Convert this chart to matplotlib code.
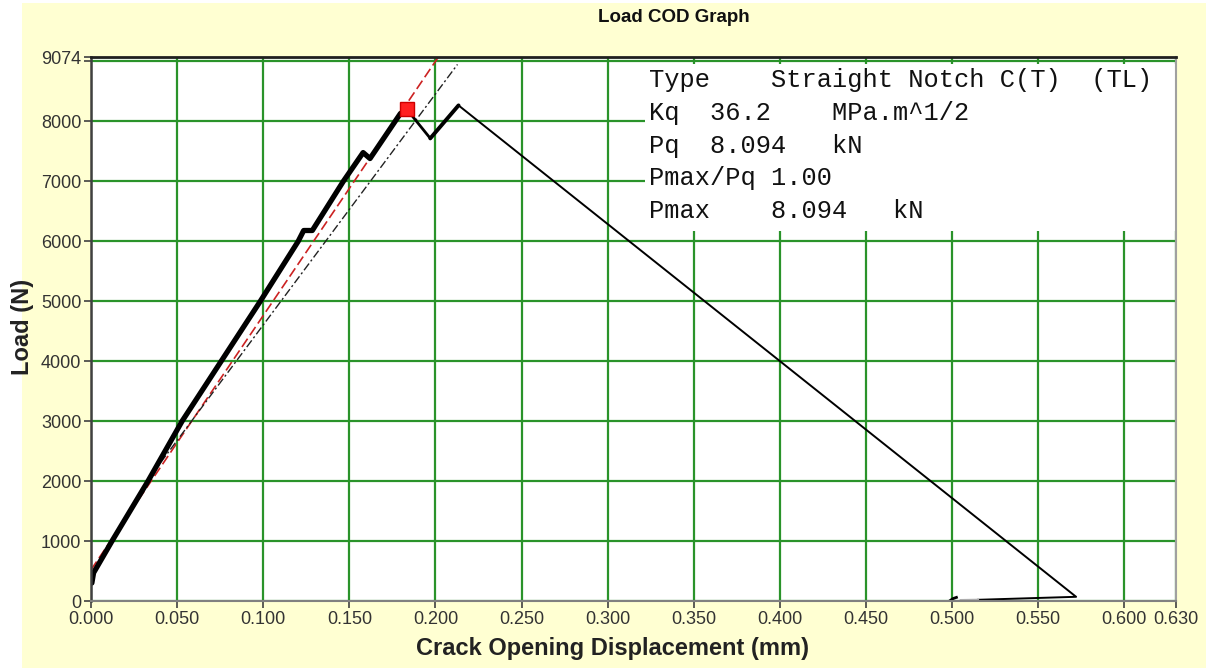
import matplotlib
matplotlib.use("Agg")
import matplotlib.pyplot as plt
from matplotlib.patches import Rectangle

# ---------------- data ----------------
cod_rise = [0.0005, 0.0015, 0.0122, 0.0331, 0.0529, 0.0983, 0.1203, 0.1235, 0.1285,
            0.1465, 0.1580, 0.1620, 0.1797, 0.1837]
load_rise = [300, 470, 1000, 2000, 3000, 5000, 6000, 6180, 6180,
             7000, 7480, 7380, 8133, 8190]

cod_drop = [0.1837, 0.1970]
load_drop = [8190, 7717]

cod_reload = [0.1970, 0.2134]
load_reload = [7717, 8267]

cod_fail = [0.2134, 0.5720, 0.5150]
load_fail = [8267, 70, 20]

cod_tail = [0.5150, 0.5050]
load_tail = [20, 15]

cod_hook = [0.4985, 0.5005, 0.5025]
load_hook = [0, 40, 60]

cod_fit = [0.0, 0.2017]          # red dashed fit line
load_fit = [520, 9074]

cod_sec = [0.035, 0.2128]        # 5% secant (dash-dot)
load_sec = [2100, 8950]

pq_cod = [0.1837]
pq_load = [8210]

xticks = [0.0, 0.05, 0.10, 0.15, 0.20, 0.25, 0.30, 0.35, 0.40, 0.45, 0.50, 0.55, 0.60, 0.63]
xticklabels = ["0.000", "0.050", "0.100", "0.150", "0.200", "0.250", "0.300", "0.350",
               "0.400", "0.450", "0.500", "0.550", "0.600", "0.630"]
yticks = [0, 1000, 2000, 3000, 4000, 5000, 6000, 7000, 8000, 9000, 9074]
yticklabels = ["0", "1000", "2000", "3000", "4000", "5000", "6000", "7000", "8000", "", "9074"]

info_lines = [
    "Type    Straight Notch C(T)  (TL)",
    "Kq  36.2    MPa.m^1/2",
    "Pq  8.094   kN",
    "Pmax/Pq 1.00",
    "Pmax    8.094   kN",
]

title = "Load COD Graph"
xlabel = "Crack Opening Displacement (mm)"
ylabel = "Load (N)"

# ---------------- figure ----------------
W, H = 1206, 668
fig = plt.figure(figsize=(W / 100, H / 100), dpi=100, facecolor="white")
fig.patches.append(Rectangle((22 / W, 0), 1 - 22 / W, 1 - 3 / H, transform=fig.transFigure,
                             facecolor="#FFFFD2", edgecolor="none", zorder=-5))

ax = fig.add_axes([91 / W, 1 - 601 / H, (1176 - 91) / W, (601 - 57) / H])
ax.set_zorder(2)
ax.set_facecolor("white")
ax.set_xlim(0, 0.63)
ax.set_ylim(0, 9074)

ax.set_xticks(xticks)
ax.set_xticklabels(xticklabels)
ax.set_yticks(yticks)
ax.set_yticklabels(yticklabels)
ax.tick_params(axis="both", direction="out", length=5, width=1.2, color="#404040",
               labelcolor="#333333", labelsize=13, pad=2)
for lab in ax.get_xticklabels() + ax.get_yticklabels():
    lab.set_family("Liberation Sans")

ax.grid(True, color="#2a932a", linewidth=1.6, zorder=1)
ax.set_axisbelow(True)

ax.spines["left"].set_color("#404040")
ax.spines["left"].set_linewidth(1.8)
ax.spines["bottom"].set_color("#808080")
ax.spines["bottom"].set_linewidth(1.5)
ax.spines["top"].set_color("#202020")
ax.spines["top"].set_linewidth(2.0)
ax.spines["right"].set_color("#a0a0a0")
ax.spines["right"].set_linewidth(1.5)

# info box
ax.add_patch(Rectangle(((645 - 91) / 1085, (601 - 231) / 544), 1 - (645 - 91) / 1085,
                       (231 - 64) / 544, transform=ax.transAxes, facecolor="white",
                       edgecolor="none", zorder=2))
line_y = [80, 113, 146, 178, 211]
for s, yp in zip(info_lines, line_y):
    ax.text((649 - 91) / 1085, (601 - yp) / 544, s, transform=ax.transAxes,
            family="Liberation Mono", fontsize=18.3, color="#111111",
            ha="left", va="center", zorder=3)

# fit lines
ax.plot(cod_fit, load_fit, color="#cc2222", linewidth=1.2, dashes=(6, 2.5), zorder=4)
ax.plot(cod_sec, load_sec, color="#222222", linewidth=1.0, dashes=(6, 2, 1.5, 2), zorder=4)

# test curve
ax.plot(cod_rise, load_rise, color="black", linewidth=3.8, solid_joinstyle="round",
        solid_capstyle="round", zorder=5)
ax.plot(cod_drop, load_drop, color="black", linewidth=2.0, zorder=5)
ax.plot(cod_reload, load_reload, color="black", linewidth=2.8, solid_capstyle="round", zorder=5)
ax.plot(cod_fail, load_fail, color="black", linewidth=1.4, zorder=5)
ax.plot(cod_tail, load_tail, color="#b0b0b0", linewidth=1.6, zorder=5)
ax.plot(cod_hook, load_hook, color="black", linewidth=2.0, zorder=5)

ax.plot(pq_cod, pq_load, marker="s", markersize=10, markerfacecolor="#ff2020",
        markeredgecolor="#cc0000", linestyle="none", zorder=6)

for sp in ax.spines.values():
    sp.set_zorder(7)

fig.text(674 / W, 1 - 17 / H, title, ha="center", va="center", fontsize=13.5,
         fontweight="bold", family="Liberation Sans", color="#111111")
fig.text(612 / W, 1 - 648 / H, xlabel, ha="center", va="center", fontsize=17,
         fontweight="bold", family="Liberation Sans", color="#222222")
fig.text(22 / W, 1 - 327 / H, ylabel, ha="center", va="center", fontsize=17,
         fontweight="bold", family="Liberation Sans", color="#222222", rotation=90)

fig.savefig("out.png", dpi=100, facecolor=fig.get_facecolor())
